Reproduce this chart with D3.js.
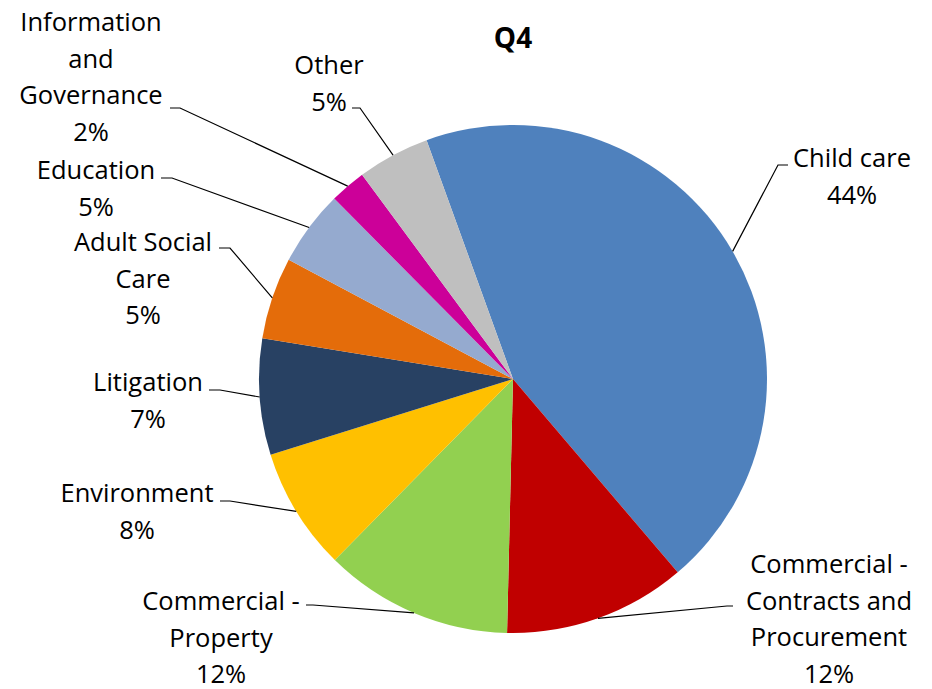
<!DOCTYPE html>
<html>
<head>
<meta charset="utf-8">
<script src="https://cdn.jsdelivr.net/npm/d3@7"></script>
<style>
  html, body { margin: 0; padding: 0; background: #fff; }
  svg { display: block; }
  text { font-family: "Open Sans", Lato, sans-serif; fill: #000; }
</style>
</head>
<body>
<div id="chart"></div>
<script>
// ---- data ----
const title = "Q4";
const categories = ["Child care", "Commercial - Contracts and Procurement", "Commercial - Property",
  "Environment", "Litigation", "Adult Social Care", "Education", "Information and Governance", "Other"];
const values = [44.3, 11.6, 12.0, 7.8, 7.4, 5.2, 4.8, 2.3, 4.6];
const colors = ["#4F81BD", "#C00000", "#92D050", "#FFC000", "#284163", "#E46C0A", "#95AACF", "#CC0099", "#BFBFBF"];
const labelLines = [
  ["Child care"], ["Commercial -", "Contracts and", "Procurement"], ["Commercial -", "Property"],
  ["Environment"], ["Litigation"], ["Adult Social", "Care"], ["Education"],
  ["Information", "and", "Governance"], ["Other"]
];

// ---- layout (positions of label boxes and leader elbows) ----
const W = 932, H = 689;
const cx = 513, cy = 379, R = 254;
const startDeg = -19.9;
const labelLayout = [
  { x: 852, y: 157, e: [778, 165], t: [788, 165] },
  { x: 829, y: 563, e: [727, 606], t: [733, 606] },
  { x: 221, y: 600, e: [313, 605], t: [306, 605] },
  { x: 137, y: 492, e: [230, 501], t: [220, 501] },
  { x: 148, y: 381, e: [220, 390], t: [209, 390] },
  { x: 143, y: 241, e: [230, 248], t: [219, 248] },
  { x: 96,  y: 169, e: [172, 178], t: [161, 178] },
  { x: 91,  y: 21,  e: [180, 108], t: [170, 108] },
  { x: 329, y: 64,  e: [360, 108], t: [352, 108] }
];
const lineH = 36.5;

const svg = d3.select("#chart").append("svg").attr("width", W).attr("height", H);

svg.append("text").attr("x", cx).attr("y", 37).attr("text-anchor", "middle")
  .attr("dominant-baseline", "central").style("font-weight", "bold").style("font-size", "28px")
  .text(title);

const total = d3.sum(values);
const pie = d3.pie().sort(null).value(d => d)
  .startAngle(startDeg * Math.PI / 180).endAngle((startDeg + 360) * Math.PI / 180);
const arcs = pie(values);
const arc = d3.arc().innerRadius(0).outerRadius(R);

const g = svg.append("g").attr("transform", `translate(${cx},${cy})`);
g.selectAll("path").data(arcs).join("path")
  .attr("d", arc).attr("fill", (d, i) => colors[i]);

// leader lines
arcs.forEach((a, i) => {
  const mid = (a.startAngle + a.endAngle) / 2;
  const px = cx + R * Math.sin(mid), py = cy - R * Math.cos(mid);
  const L = labelLayout[i];
  svg.append("polyline")
    .attr("points", [[px, py], L.e, L.t].map(p => p.join(",")).join(" "))
    .attr("fill", "none").attr("stroke", "#000").attr("stroke-width", 1.2);
});

// labels
arcs.forEach((a, i) => {
  const L = labelLayout[i];
  const lines = labelLines[i].concat([Math.round(values[i] / total * 100) + "%"]);
  const t = svg.append("text").attr("text-anchor", "middle").style("font-size", "25.5px");
  lines.forEach((ln, k) => {
    t.append("tspan").attr("x", L.x).attr("y", L.y + k * lineH)
      .attr("dominant-baseline", "central").text(ln);
  });
});
</script>
</body>
</html>
